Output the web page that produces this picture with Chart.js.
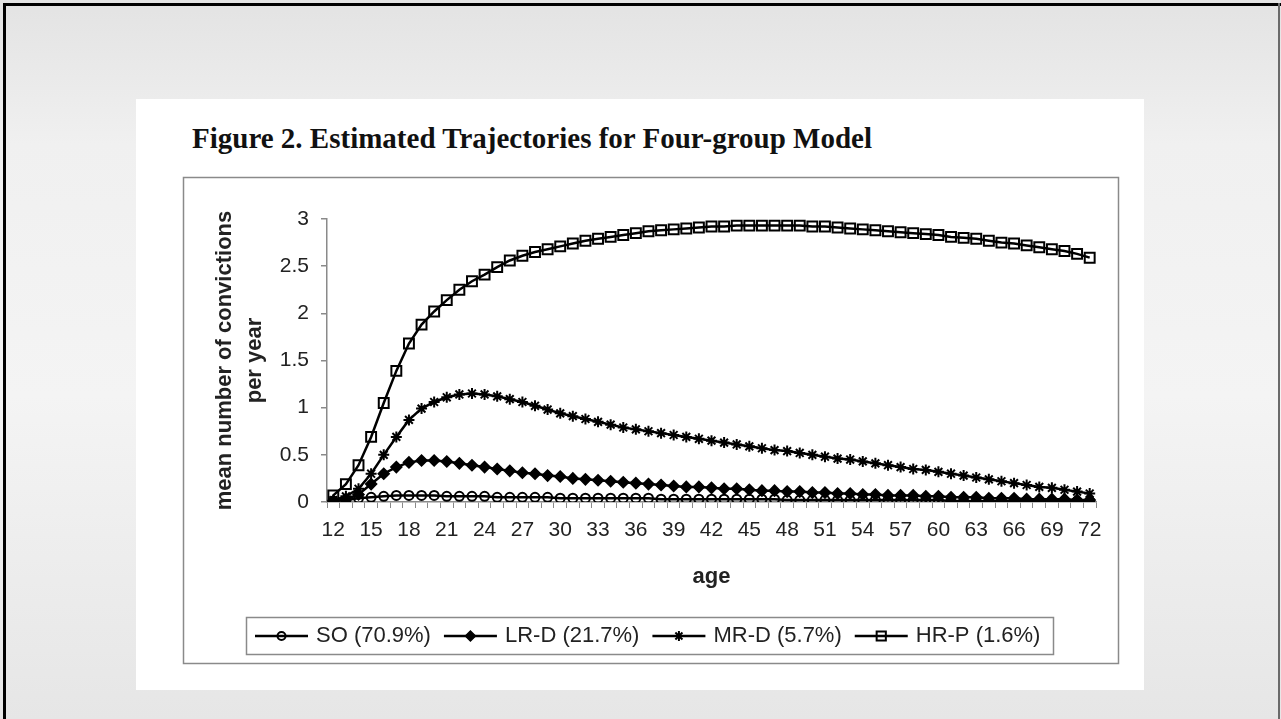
<!DOCTYPE html>
<html>
<head>
<meta charset="utf-8">
<script src="https://cdn.jsdelivr.net/npm/chart.js"></script>
<style>
    html, body { margin: 0; padding: 0; }
    body { width: 1281px; height: 719px; overflow: hidden; position: relative;
        background: linear-gradient(#e3e3e3 0%, #f0f0f0 20%, #f4f4f4 55%, #e6e6e6 100%); }
    .edge { position: absolute; }
    #edgeTop { left: 3px; top: 3px; width: 1278px; height: 3px; background: #000; }
    #edgeLeft { left: 3px; top: 3px; width: 3px; height: 716px; background: #000; }
    #edgeRight { left: 1278px; top: 3px; width: 2px; height: 716px; background: #6a6a6a; }
    #panel { position: absolute; left: 136px; top: 99px; width: 1008px; height: 591px; background: #fff; }
    #figTitle { position: absolute; left: 56px; top: 25px; margin: 0; white-space: nowrap;
        font: bold 29px/29px "Liberation Serif", "Times New Roman", serif; color: #111; }
    #chart { position: absolute; left: 0; top: 0; }
</style>
</head>
<body>
<div class="edge" id="edgeTop"></div>
<div class="edge" id="edgeLeft"></div>
<div class="edge" id="edgeRight"></div>
<div id="panel">
    <div id="figTitle">Figure 2. Estimated Trajectories for Four-group Model</div>
    <canvas id="chart" width="1008" height="591"></canvas>
</div>
<script>
// --- DATA ---
const ages = [12, 13, 14, 15, 16, 17, 18, 19, 20, 21,
    22, 23, 24, 25, 26, 27, 28, 29, 30, 31,
    32, 33, 34, 35, 36, 37, 38, 39, 40, 41,
    42, 43, 44, 45, 46, 47, 48, 49, 50, 51,
    52, 53, 54, 55, 56, 57, 58, 59, 60, 61,
    62, 63, 64, 65, 66, 67, 68, 69, 70, 71, 72];

const groupLabels = ['SO (70.9%)', 'LR-D (21.7%)', 'MR-D (5.7%)', 'HR-P (1.6%)'];

const soValues = [0.01, 0.02, 0.04, 0.05, 0.06, 0.07, 0.07, 0.07, 0.07, 0.06,
    0.06, 0.06, 0.06, 0.05, 0.05, 0.05, 0.05, 0.05, 0.04, 0.04,
    0.04, 0.04, 0.04, 0.04, 0.04, 0.04, 0.03, 0.03, 0.03, 0.03,
    0.03, 0.03, 0.03, 0.03, 0.03, 0.03, 0.02, 0.02, 0.02, 0.02,
    0.02, 0.02, 0.02, 0.02, 0.02, 0.02, 0.02, 0.02, 0.02, 0.01,
    0.01, 0.01, 0.01, 0.01, 0.01, 0.01, 0.01, 0.01, 0.01, 0.01, 0.01];

const lrdValues = [0.01, 0.03, 0.08, 0.19, 0.30, 0.37, 0.42, 0.44, 0.44, 0.43,
    0.41, 0.39, 0.37, 0.35, 0.33, 0.31, 0.30, 0.28, 0.27, 0.25,
    0.24, 0.23, 0.22, 0.21, 0.20, 0.19, 0.18, 0.17, 0.16, 0.16,
    0.15, 0.14, 0.14, 0.13, 0.12, 0.12, 0.11, 0.11, 0.10, 0.10,
    0.09, 0.09, 0.08, 0.08, 0.07, 0.07, 0.07, 0.06, 0.06, 0.05,
    0.05, 0.05, 0.04, 0.04, 0.04, 0.03, 0.03, 0.03, 0.03, 0.02, 0.02];

const mrdValues = [0.02, 0.06, 0.14, 0.30, 0.50, 0.69, 0.87, 0.99, 1.06, 1.11,
    1.14, 1.15, 1.14, 1.12, 1.09, 1.06, 1.02, 0.98, 0.94, 0.91,
    0.88, 0.85, 0.82, 0.79, 0.77, 0.75, 0.73, 0.71, 0.69, 0.67,
    0.65, 0.63, 0.61, 0.59, 0.57, 0.55, 0.54, 0.52, 0.50, 0.48,
    0.46, 0.45, 0.43, 0.41, 0.39, 0.37, 0.35, 0.34, 0.32, 0.30,
    0.28, 0.26, 0.24, 0.22, 0.20, 0.18, 0.16, 0.15, 0.13, 0.11, 0.09];

const hrpValues = [0.07, 0.19, 0.39, 0.69, 1.05, 1.39, 1.68, 1.88, 2.02, 2.14,
    2.25, 2.34, 2.41, 2.49, 2.56, 2.61, 2.65, 2.68, 2.71, 2.74,
    2.77, 2.79, 2.81, 2.83, 2.85, 2.87, 2.88, 2.89, 2.90, 2.91,
    2.92, 2.92, 2.93, 2.93, 2.93, 2.93, 2.93, 2.93, 2.92, 2.92,
    2.91, 2.90, 2.89, 2.88, 2.87, 2.86, 2.85, 2.84, 2.83, 2.81,
    2.80, 2.79, 2.77, 2.75, 2.74, 2.72, 2.70, 2.68, 2.66, 2.63, 2.59];

const yTicks = [0, 0.5, 1, 1.5, 2, 2.5, 3];

// --- STYLE ---
const AXIS_GRAY = '#8a8a8a';
const TEXT_DARK = '#222';
const SANS = '"Liberation Sans", Arial, sans-serif';
Chart.defaults.font.family = SANS;
Chart.defaults.color = TEXT_DARK;

function series(label, data, style, radius, fill, markerWidth) {
    return {
        label: label,
        data: data,
        borderColor: '#000',
        borderWidth: 2.5,
        tension: 0,
        pointStyle: style,
        pointRadius: radius,
        pointBorderWidth: markerWidth,
        pointBorderColor: '#000',
        pointBackgroundColor: fill,
        pointHoverRadius: radius
    };
}

// outer chart frame + line/marker legend box, drawn like the spreadsheet chart
const frameLegend = {
    id: 'frameLegend',
    beforeDraw(chart) {
        const ctx = chart.ctx;
        ctx.save();
        ctx.strokeStyle = AXIS_GRAY;
        ctx.lineWidth = 1.5;
        ctx.strokeRect(47.5, 78.5, 935, 486);
        ctx.restore();
    },
    afterDraw(chart) {
        const ctx = chart.ctx;
        ctx.save();
        ctx.strokeStyle = AXIS_GRAY;
        ctx.lineWidth = 1.5;
        ctx.strokeRect(110.5, 518.5, 807, 37);

        ctx.font = '22px ' + SANS;
        ctx.textBaseline = 'middle';
        const cy = 537;
        let x = 119;
        chart.data.datasets.forEach(ds => {
            ctx.strokeStyle = '#000';
            ctx.lineWidth = 2.5;
            ctx.beginPath();
            ctx.moveTo(x, cy);
            ctx.lineTo(x + 53, cy);
            ctx.stroke();

            ctx.fillStyle = ds.pointBackgroundColor;
            ctx.lineWidth = ds.pointBorderWidth;
            Chart.helpers.drawPoint(ctx, {
                pointStyle: ds.pointStyle, radius: ds.pointRadius - 0.5,
                borderWidth: ds.pointBorderWidth, rotation: 0
            }, x + 26.5, cy);

            ctx.fillStyle = TEXT_DARK;
            ctx.fillText(ds.label, x + 61, cy);
            x += 61 + ctx.measureText(ds.label).width + 13;
        });
        ctx.restore();
    }
};

const ctx = document.getElementById('chart').getContext('2d');
new Chart(ctx, {
    type: 'line',
    data: {
        labels: ages,
        datasets: [
            series(groupLabels[0], soValues, 'circle', 4.5, 'rgba(0,0,0,0)', 2),
            series(groupLabels[1], lrdValues, 'rectRot', 5.5, '#000', 1.5),
            series(groupLabels[2], mrdValues, 'star', 5.5, 'rgba(0,0,0,0)', 2),
            series(groupLabels[3], hrpValues, 'rect', 7, 'rgba(0,0,0,0)', 2)
        ]
    },
    options: {
        responsive: false,
        animation: false,
        layout: { padding: { left: 60, right: 48, top: 120, bottom: 100 } },
        plugins: { legend: { display: false }, tooltip: { enabled: false }, title: { display: false } },
        scales: {
            x: {
                type: 'category',
                offset: true,
                afterFit: scale => { scale.height = 88; },
                grid: { offset: true, drawOnChartArea: false, tickLength: 6, color: AXIS_GRAY, lineWidth: 1 },
                border: { color: AXIS_GRAY, width: 1.5 },
                ticks: {
                    autoSkip: false, maxRotation: 0, padding: 10,
                    font: { size: 21 }, color: TEXT_DARK,
                    callback: (val, idx) => ((ages[idx] - 12) % 3 === 0 ? String(ages[idx]) : '')
                },
                title: { display: true, text: 'age', color: TEXT_DARK,
                    font: { size: 22, weight: 'bold' }, padding: { top: 0, bottom: 0 } }
            },
            y: {
                min: 0,
                max: 3,
                afterFit: scale => { scale.width = 131; },
                afterBuildTicks: scale => { scale.ticks = yTicks.map(v => ({ value: v })); },
                grid: { drawOnChartArea: false, tickLength: 6, color: AXIS_GRAY, lineWidth: 1.5 },
                border: { color: AXIS_GRAY, width: 1.5 },
                ticks: { padding: 12, font: { size: 21 }, color: TEXT_DARK, callback: v => String(v) },
                title: { display: true, text: ['mean number of convictions', 'per year'], color: TEXT_DARK,
                    font: { size: 22, weight: 'bold', lineHeight: 1.36 }, padding: { top: 14, bottom: 0 } }
            }
        }
    },
    plugins: [frameLegend]
});
</script>
</body>
</html>
